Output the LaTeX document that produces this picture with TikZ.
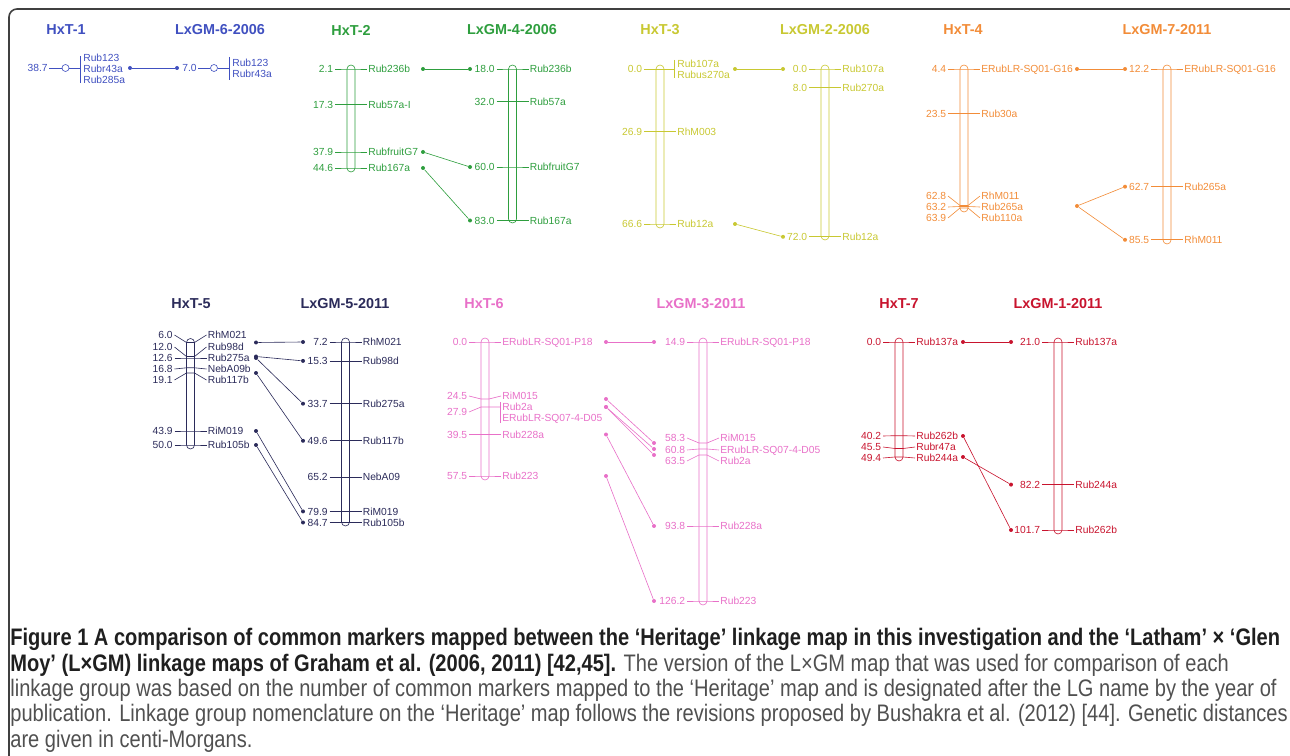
\documentclass[tikz,border=0pt]{standalone}
\usepackage{fontspec}
\setmainfont{Liberation Sans}
\newfontfamily\capfont[FakeStretch=0.84]{Liberation Sans}
\definecolor{mapblue}{RGB}{64,80,192}
\definecolor{mapgreen}{RGB}{46,158,62}
\definecolor{mapyellow}{RGB}{200,200,50}
\definecolor{maporange}{RGB}{242,140,56}
\definecolor{mapnavy}{RGB}{43,43,90}
\definecolor{mappink}{RGB}{232,112,200}
\definecolor{mapred}{RGB}{200,20,46}
\definecolor{capgray}{RGB}{80,80,80}

\begin{document}
\begin{tikzpicture}[x=0.02cm,y=-0.02cm,
  title/.style={font=\fontsize{8.2}{9}\selectfont\bfseries},
  num/.style={font=\fontsize{5.85}{7}\selectfont, inner sep=0pt, anchor=east, text height=4.2pt, text depth=0pt},
  lbl/.style={font=\fontsize{5.85}{7}\selectfont, inner sep=0pt, anchor=west, text height=4.2pt, text depth=0pt},
  tick/.style={line width=0.35pt},
  chrom/.style={line width=0.35pt, rounded corners=0.08cm},
  ring/.style={draw, circle, inner sep=0pt, minimum size=0.14cm, line width=0.35pt},
  dot/.style={circle, fill, inner sep=0pt, minimum size=0.08cm},
  link/.style={line width=0.35pt}]
\useasboundingbox (0,0) rectangle (1290,756);

% frame
\draw[line width=0.9pt, black!75, rounded corners=0.16cm] (9,9) rectangle (1305,770);

% titles
\node[title, mapblue] (t1a) at (66,30) {HxT-1};
\node[title, mapblue] (t1b) at (220,30) {LxGM-6-2006};
\node[title, mapgreen] (t2a) at (351,30) {HxT-2};
\node[title, mapgreen] (t2b) at (512,30) {LxGM-4-2006};
\node[title, mapyellow] (t3a) at (660,30) {HxT-3};
\node[title, mapyellow] (t3b) at (825,30) {LxGM-2-2006};
\node[title, maporange] (t4a) at (963,30) {HxT-4};
\node[title, maporange] (t4b) at (1167,30) {LxGM-7-2011};
\node[title, mapnavy] (t5a) at (191,304) {HxT-5};
\node[title, mapnavy] (t5b) at (345,304) {LxGM-5-2011};
\node[title, mappink] (t6a) at (484,304) {HxT-6};
\node[title, mappink] (t6b) at (701,304) {LxGM-3-2011};
\node[title, mapred] (t7a) at (899,304) {HxT-7};
\node[title, mapred] (t7b) at (1058,304) {LxGM-1-2011};

% group 1
\begin{scope}[mapblue]
\node[num] (h1n) at (48,68) {38.7};
\node[ring] (h1c) at (65.5,68) {};
\draw[tick] (49,68) -- (h1c.west) (h1c.east) -- (80,68);
\draw[tick] (80,56) -- (80,83);
\node[lbl] (h1m1) at (83,58) {Rub123};
\node[lbl] (h1m2) at (83,69) {Rubr43a};
\node[lbl] (h1m3) at (83,80) {Rub285a};
\node[dot] (h1d) at (130,68) {};
\node[dot] (l6d) at (177,68) {};
\node[num] (l6n) at (197,68) {7.0};
\node[ring] (l6c) at (214,68) {};
\draw[tick] (198,68) -- (l6c.west) (l6c.east) -- (229,68);
\draw[tick] (229,57) -- (229,80);
\node[lbl] (l6m1) at (232,63) {Rub123};
\node[lbl] (l6m2) at (232,74) {Rubr43a};
\draw[link] (h1d) -- (l6d);
\end{scope}

% group 2
\begin{scope}[mapgreen]
\def\xc{351}
\draw[chrom] (\xc-4,65) rectangle (\xc+4,172);
\foreach \ym/\yl/\d/\m [count=\i] in {69/69/2.1/Rub236b,104.5/104.5/17.3/Rub57a-I,152/152/37.9/RubfruitG7,168/168/44.6/Rub167a}{
  \draw[tick] (\xc-16,\yl) -- (\xc-4,\ym) -- (\xc+4,\ym) -- (\xc+16,\yl);
  \node[num] (h2n\i) at (\xc-17.5,\yl) {\d};
  \node[lbl] (h2m\i) at (\xc+17,\yl) {\m};
}
\def\xc{512.5}
\draw[chrom] (\xc-4,65) rectangle (\xc+4,223);
\foreach \ym/\yl/\d/\m [count=\i] in {69/69/18.0/Rub236b,101.6/101.6/32.0/Rub57a,167/167/60.0/RubfruitG7,220.5/220.5/83.0/Rub167a}{
  \draw[tick] (\xc-16,\yl) -- (\xc-4,\ym) -- (\xc+4,\ym) -- (\xc+16,\yl);
  \node[num] (l4n\i) at (\xc-17.5,\yl) {\d};
  \node[lbl] (l4m\i) at (\xc+17,\yl) {\m};
}
\node[dot] (h2d1) at (423,69) {};
\node[dot] (h2d3) at (423,152) {};
\node[dot] (h2d4) at (423,168) {};
\node[dot] (l4d1) at (470,69) {};
\node[dot] (l4d3) at (470,167) {};
\node[dot] (l4d4) at (470,220.5) {};
\draw[link] (h2d1) -- (l4d1);
\draw[link] (h2d3) -- (l4d3);
\draw[link] (h2d4) -- (l4d4);
\end{scope}

% group 3
\begin{scope}[mapyellow]
\def\xc{660}
\draw[chrom] (\xc-4,65) rectangle (\xc+4,228);
\draw[tick] (\xc-16,69) -- (674,69);
\draw[tick] (674,60) -- (674,78);
\node[num] (h3n1) at (\xc-17.5,69) {0.0};
\node[lbl] (h3m1) at (677,64) {Rub107a};
\node[lbl] (h3m2) at (677,75) {Rubus270a};
\foreach \ym/\yl/\d/\m [count=\i from 2] in {131.7/131.7/26.9/RhM003,224/224/66.6/Rub12a}{
  \draw[tick] (\xc-16,\yl) -- (\xc-4,\ym) -- (\xc+4,\ym) -- (\xc+16,\yl);
  \node[num] (h3n\i) at (\xc-17.5,\yl) {\d};
  \node[lbl] (h3m\i) at (\xc+17,\yl) {\m};
}
\def\xc{825}
\draw[chrom] (\xc-4,65) rectangle (\xc+4,240);
\foreach \ym/\yl/\d/\m [count=\i] in {69/69/0.0/Rub107a,87.6/87.6/8.0/Rub270a,236.8/236.8/72.0/Rub12a}{
  \draw[tick] (\xc-16,\yl) -- (\xc-4,\ym) -- (\xc+4,\ym) -- (\xc+16,\yl);
  \node[num] (l2n\i) at (\xc-17.5,\yl) {\d};
  \node[lbl] (l2m\i) at (\xc+17,\yl) {\m};
}
\node[dot] (h3d1) at (735,69) {};
\node[dot] (h3d3) at (735,224) {};
\node[dot] (l2d1) at (783,69) {};
\node[dot] (l2d3) at (783,236.8) {};
\draw[link] (h3d1) -- (l2d1);
\draw[link] (h3d3) -- (l2d3);
\end{scope}

% group 4
\begin{scope}[maporange]
\def\xc{964}
\draw[chrom] (\xc-4,65) rectangle (\xc+4,212);
\foreach \ym/\yl/\d/\m [count=\i] in {69/69/4.4/ERubLR-SQ01-G16,113.5/113.5/23.5/Rub30a,205.5/196/62.8/RhM011,206.5/207/63.2/Rub265a,208/218/63.9/Rub110a}{
  \draw[tick] (\xc-16,\yl) -- (\xc-4,\ym) -- (\xc+4,\ym) -- (\xc+16,\yl);
  \node[num] (h4n\i) at (\xc-17.5,\yl) {\d};
  \node[lbl] (h4m\i) at (\xc+17,\yl) {\m};
}
\def\xc{1167}
\draw[chrom] (\xc-4,65) rectangle (\xc+4,244);
\foreach \ym/\yl/\d/\m [count=\i] in {69/69/12.2/ERubLR-SQ01-G16,186.7/186.7/62.7/Rub265a,239.8/239.8/85.5/RhM011}{
  \draw[tick] (\xc-16,\yl) -- (\xc-4,\ym) -- (\xc+4,\ym) -- (\xc+16,\yl);
  \node[num] (l7n\i) at (\xc-17.5,\yl) {\d};
  \node[lbl] (l7m\i) at (\xc+17,\yl) {\m};
}
\node[dot] (h4d1) at (1077,69) {};
\node[dot] (h4d4) at (1077,206) {};
\node[dot] (l7d1) at (1125,69) {};
\node[dot] (l7d2) at (1125,186.7) {};
\node[dot] (l7d3) at (1125,239.8) {};
\draw[link] (h4d1) -- (l7d1);
\draw[link] (h4d4) -- (l7d2);
\draw[link] (h4d4) -- (l7d3);
\end{scope}

% group 5
\begin{scope}[mapnavy]
\def\xc{190.5}
\draw[chrom] (\xc-4,338.5) rectangle (\xc+4,449);
\foreach \ym/\yl/\d/\m [count=\i] in {342.5/335/6.0/RhM021,356.5/347/12.0/Rub98d,358/358/12.6/Rub275a,367.8/369/16.8/NebA09b,373/380/19.1/Rub117b,431/431/43.9/RiM019,445/445/50.0/Rub105b}{
  \draw[tick] (\xc-16,\yl) -- (\xc-4,\ym) -- (\xc+4,\ym) -- (\xc+16,\yl);
  \node[num] (h5n\i) at (\xc-17.5,\yl) {\d};
  \node[lbl] (h5m\i) at (\xc+17,\yl) {\m};
}
\def\xc{345.5}
\draw[chrom] (\xc-4,338) rectangle (\xc+4,526);
\foreach \ym/\yl/\d/\m [count=\i] in {342/342/7.2/RhM021,360.9/360.9/15.3/Rub98d,403.7/403.7/33.7/Rub275a,440.8/440.8/49.6/Rub117b,477.1/477.1/65.2/NebA09,511.4/511.4/79.9/RiM019,522.5/522.5/84.7/Rub105b}{
  \draw[tick] (\xc-16,\yl) -- (\xc-4,\ym) -- (\xc+4,\ym) -- (\xc+16,\yl);
  \node[num] (l5n\i) at (\xc-17.5,\yl) {\d};
  \node[lbl] (l5m\i) at (\xc+17,\yl) {\m};
}
\foreach \ya/\yb/\i in {342.5/342/1,356.5/360.9/2,358/403.7/3,373/440.8/4,431/511.4/6,445/522.5/7}{
  \node[dot] (h5d\i) at (256,\ya) {};
  \node[dot] (l5d\i) at (303,\yb) {};
  \draw[link] (h5d\i) -- (l5d\i);
}
\end{scope}

% group 6
\begin{scope}[mappink]
\def\xc{485}
\draw[chrom] (\xc-4,338) rectangle (\xc+4,480);
\foreach \ym/\yl/\d/\m [count=\i] in {342/342/0.0/ERubLR-SQ01-P18,399/396/24.5/RiM015,434.5/434.5/39.5/Rub228a,476/476/57.5/Rub223}{
  \draw[tick] (\xc-16,\yl) -- (\xc-4,\ym) -- (\xc+4,\ym) -- (\xc+16,\yl);
  \node[num] (h6n\i) at (\xc-17.5,\yl) {\d};
  \node[lbl] (h6m\i) at (\xc+17,\yl) {\m};
}
\draw[tick] (\xc-16,412) -- (\xc-4,407) -- (500,407);
\draw[tick] (500,402) -- (500,423);
\node[num] (h6n5) at (\xc-17.5,412) {27.9};
\node[lbl] (h6m5) at (502,407) {Rub2a};
\node[lbl] (h6m6) at (502,418) {ERubLR-SQ07-4-D05};
\def\xc{703}
\draw[chrom] (\xc-4,338) rectangle (\xc+4,605);
\foreach \ym/\yl/\d/\m [count=\i] in {342/342/14.9/ERubLR-SQ01-P18,443/438/58.3/RiM015,449/450/60.8/ERubLR-SQ07-4-D05,455/461/63.5/Rub2a,526/526/93.8/Rub228a,601/601/126.2/Rub223}{
  \draw[tick] (\xc-16,\yl) -- (\xc-4,\ym) -- (\xc+4,\ym) -- (\xc+16,\yl);
  \node[num] (l3n\i) at (\xc-17.5,\yl) {\d};
  \node[lbl] (l3m\i) at (\xc+17,\yl) {\m};
}
\foreach \ya/\yb/\i in {342/342/1,399/443/2,407/455/3,407/449/4,434.5/526/5,476/601/6}{
  \node[dot] (h6d\i) at (606,\ya) {};
  \node[dot] (l3d\i) at (654,\yb) {};
  \draw[link] (h6d\i) -- (l3d\i);
}
\end{scope}

% group 7
\begin{scope}[mapred]
\def\xc{899}
\draw[chrom] (\xc-4,338) rectangle (\xc+4,461);
\foreach \ym/\yl/\d/\m [count=\i] in {342/342/0.0/Rub137a,435.7/436/40.2/Rub262b,448.5/447/45.5/Rubr47a,457/458/49.4/Rub244a}{
  \draw[tick] (\xc-16,\yl) -- (\xc-4,\ym) -- (\xc+4,\ym) -- (\xc+16,\yl);
  \node[num] (h7n\i) at (\xc-17.5,\yl) {\d};
  \node[lbl] (h7m\i) at (\xc+17,\yl) {\m};
}
\def\xc{1058}
\draw[chrom] (\xc-4,338) rectangle (\xc+4,534);
\foreach \ym/\yl/\d/\m [count=\i] in {342/342/21.0/Rub137a,484.6/484.6/82.2/Rub244a,530/530/101.7/Rub262b}{
  \draw[tick] (\xc-16,\yl) -- (\xc-4,\ym) -- (\xc+4,\ym) -- (\xc+16,\yl);
  \node[num] (l1n\i) at (\xc-17.5,\yl) {\d};
  \node[lbl] (l1m\i) at (\xc+17,\yl) {\m};
}
\foreach \ya/\yb/\i in {342/342/1,436/530/2,457/484.6/3}{
  \node[dot] (h7d\i) at (963,\ya) {};
  \node[dot] (l1d\i) at (1011,\yb) {};
  \draw[link] (h7d\i) -- (l1d\i);
}
\end{scope}

% caption
\node[anchor=north west, align=left, inner sep=0pt, text=capgray,
  font=\capfont\fontsize{13.6}{14.45}\selectfont] (cap) at (10,628)
{{\color{black!88}\bfseries Figure 1 A comparison of common markers mapped between the ‘Heritage’ linkage map in this investigation and the ‘Latham’ × ‘Glen}\\
{\color{black!88}\bfseries Moy’ (L×GM) linkage maps of Graham et al. (2006, 2011) [42,45].} The version of the L×GM map that was used for comparison of each\\
linkage group was based on the number of common markers mapped to the ‘Heritage’ map and is designated after the LG name by the year of\\
publication. Linkage group nomenclature on the ‘Heritage’ map follows the revisions proposed by Bushakra et al. (2012) [44]. Genetic distances\\
are given in centi-Morgans.};
\end{tikzpicture}
\end{document}
